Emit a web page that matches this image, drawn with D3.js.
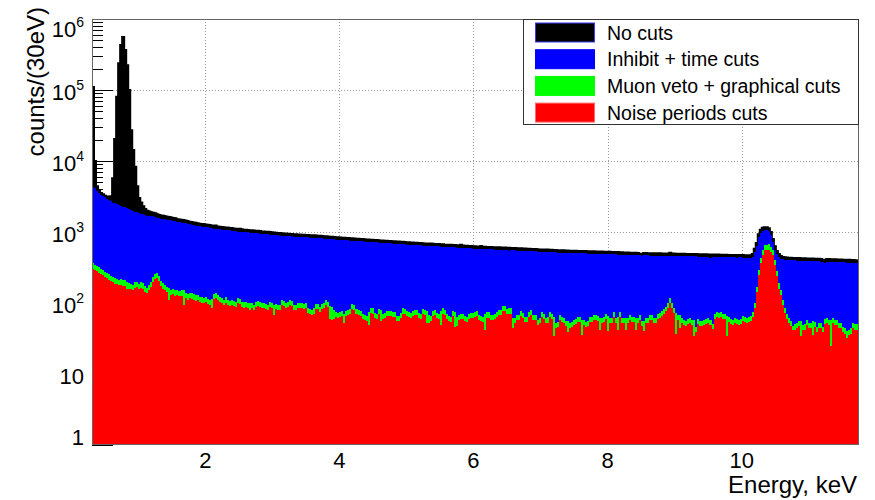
<!DOCTYPE html>
<html>
<head>
<meta charset="utf-8">
<script src="https://cdn.jsdelivr.net/npm/d3@7"></script>
<style>
  html, body { margin: 0; padding: 0; background: #fff; }
  svg { display: block; font-family: "Liberation Sans", Arial, Helvetica, sans-serif; }
</style>
</head>
<body>
<svg id="chart" width="875" height="500"></svg>
<script>
// Energy spectrum, 30 eV bins starting at 0.31 keV (381 bins), counts per bin.
const E_MIN = 0.31, BIN_KEV = 0.03;

const noCuts = [
  110000, 10000, 4400, 3900, 3550, 3400, 3250, 3150, 3050, 3200,
  5700, 20400, 80500, 238000, 430000, 560000, 366000, 224000, 100000, 27000,
  14300, 8300, 4400, 3000, 2600, 2300, 2100, 2000, 1950, 1900,
  1870, 1830, 1780, 1740, 1710, 1690, 1660, 1640, 1620, 1600,
  1580, 1560, 1510, 1500, 1490, 1470, 1450, 1430, 1400, 1380,
  1360, 1350, 1330, 1310, 1300, 1300, 1280, 1270, 1250, 1230,
  1220, 1230, 1200, 1190, 1180, 1170, 1160, 1160, 1140, 1140,
  1120, 1110, 1100, 1110, 1090, 1080, 1080, 1070, 1060, 1060,
  1050, 1040, 1040, 1030, 1020, 1020, 1010, 1010, 1000, 990,
  980, 975, 970, 965, 960, 955, 950, 945, 940, 935,
  932, 930, 922, 920, 918, 912, 910, 905, 902, 900,
  898, 890, 888, 882, 878, 872, 870, 864, 860, 855,
  850, 846, 842, 838, 832, 830, 825, 822, 818, 815,
  810, 806, 803, 800, 795, 792, 787, 785, 780, 776,
  772, 770, 765, 762, 758, 755, 752, 748, 745, 742,
  739, 735, 732, 729, 726, 722, 719, 716, 713, 710,
  707, 704, 702, 699, 697, 680, 691, 688, 686, 683,
  680, 677, 675, 672, 670, 655, 664, 662, 659, 657,
  654, 651, 649, 660, 644, 642, 639, 636, 634, 632,
  629, 626, 623, 635, 620, 618, 617, 616, 613, 612,
  611, 609, 608, 606, 590, 603, 600, 599, 597, 595,
  593, 592, 590, 588, 585, 584, 582, 580, 578, 577,
  575, 572, 560, 569, 568, 566, 565, 563, 562, 559,
  558, 540, 555, 553, 552, 550, 549, 546, 545, 544,
  543, 542, 541, 540, 539, 538, 537, 536, 535, 534,
  532, 531, 530, 530, 529, 528, 527, 526, 524, 523,
  522, 521, 518, 517, 516, 515, 513, 512, 511, 510,
  509, 508, 495, 490, 505, 505, 504, 503, 503, 502,
  501, 501, 500, 499, 499, 498, 498, 510, 496, 496,
  495, 495, 494, 492, 492, 491, 491, 490, 489, 489,
  488, 487, 487, 486, 485, 485, 484, 465, 483, 482,
  481, 481, 480, 478, 478, 477, 476, 476, 475, 475,
  460, 474, 474, 473, 472, 472, 471, 471, 490, 580,
  700, 930, 1080, 1150, 1170, 1165, 1130, 1000, 800, 630,
  540, 490, 460, 445, 440, 436, 434, 433, 432, 431,
  430, 429, 428, 427, 426, 425, 424, 423, 422, 421,
  420, 419, 418, 405, 400, 416, 415, 414, 413, 412,
  411, 410, 409, 408, 407, 395, 405, 404, 402, 400,
  398
];

const inhibitTime = [
  4300, 4100, 3820, 3600, 3320, 3200, 3080, 2950, 2820, 2750,
  2600, 2550, 2450, 2400, 2350, 2280, 2250, 2150, 2080, 2050,
  1950, 1930, 1900, 1850, 1800, 1780, 1750, 1700, 1690, 1660,
  1680, 1620, 1580, 1560, 1540, 1530, 1500, 1480, 1470, 1460,
  1440, 1420, 1380, 1370, 1360, 1340, 1330, 1310, 1280, 1260,
  1250, 1230, 1220, 1200, 1190, 1190, 1170, 1160, 1140, 1130,
  1120, 1120, 1100, 1090, 1080, 1070, 1070, 1060, 1050, 1040,
  1030, 1020, 1010, 1010, 1000, 995, 990, 985, 980, 975,
  970, 960, 955, 950, 945, 940, 935, 930, 920, 915,
  905, 900, 895, 890, 885, 880, 875, 872, 868, 866,
  862, 858, 855, 852, 848, 845, 842, 838, 835, 832,
  830, 826, 821, 817, 812, 808, 804, 800, 796, 791,
  787, 783, 779, 775, 771, 768, 764, 761, 757, 754,
  750, 747, 743, 740, 736, 733, 729, 726, 722, 719,
  715, 712, 708, 705, 702, 699, 696, 693, 690, 687,
  684, 681, 678, 675, 672, 669, 666, 663, 660, 657,
  655, 652, 650, 647, 645, 628, 640, 637, 635, 632,
  630, 627, 625, 622, 620, 605, 615, 613, 610, 608,
  606, 603, 601, 599, 596, 594, 592, 589, 587, 585,
  582, 580, 577, 575, 574, 572, 571, 570, 568, 567,
  566, 564, 563, 561, 560, 558, 556, 540, 553, 551,
  549, 548, 546, 544, 542, 541, 539, 537, 535, 534,
  532, 530, 529, 527, 526, 524, 523, 521, 520, 518,
  517, 500, 514, 512, 511, 509, 508, 506, 505, 504,
  503, 502, 501, 500, 499, 498, 497, 496, 495, 494,
  493, 492, 491, 491, 490, 489, 488, 487, 485, 484,
  483, 482, 480, 479, 478, 477, 475, 474, 473, 472,
  471, 470, 469, 452, 468, 468, 467, 466, 466, 465,
  464, 464, 463, 462, 462, 461, 461, 460, 459, 459,
  458, 458, 457, 456, 456, 455, 455, 454, 453, 453,
  452, 451, 451, 450, 449, 449, 448, 432, 447, 446,
  445, 445, 444, 443, 443, 442, 441, 441, 440, 440,
  425, 439, 438, 437, 437, 436, 436, 435, 440, 520,
  640, 850, 980, 1040, 1060, 1060, 1040, 900, 720, 560,
  490, 450, 420, 410, 405, 402, 400, 399, 398, 397,
  396, 395, 394, 393, 392, 391, 390, 389, 388, 387,
  386, 385, 384, 383, 365, 381, 380, 379, 378, 377,
  376, 375, 374, 373, 372, 371, 370, 368, 366, 364,
  362
];

const muonGraphical = [
  362, 340, 330, 318, 300, 290, 276, 262, 253, 240,
  235, 222, 218, 211, 215, 210, 208, 200, 189, 184,
  179, 195, 200, 186, 195, 189, 172, 163, 180, 200,
  230, 258, 262, 240, 205, 189, 178, 170, 161, 152,
  155, 150, 153, 147, 150, 152, 140, 133, 138, 137,
  132, 128, 130, 123, 120, 118, 123, 115, 110, 114,
  134, 137, 130, 123, 118, 112, 120, 110, 106, 112,
  106, 104, 119, 115, 104, 102, 104, 99, 101, 99,
  94, 104, 107, 103, 99, 101, 96, 94, 104, 100,
  94, 96, 94, 94, 112, 108, 99, 104, 110, 108,
  95, 94, 100, 99, 100, 98, 99, 86, 82, 80,
  84, 96, 97, 88, 96, 99, 110, 104, 92, 88,
  80, 74, 72, 75, 76, 71, 78, 80, 82, 96,
  94, 82, 80, 78, 71, 68, 66, 74, 85, 84,
  72, 70, 82, 80, 71, 72, 76, 78, 77, 75,
  74, 66, 65, 72, 84, 82, 76, 74, 73, 78,
  80, 79, 72, 70, 82, 80, 76, 68, 66, 78,
  80, 72, 70, 76, 84, 80, 71, 66, 64, 78,
  74, 64, 68, 71, 70, 65, 64, 70, 73, 72,
  74, 78, 68, 65, 64, 70, 74, 74, 68, 68,
  71, 74, 80, 80, 92, 90, 82, 84, 84, 61,
  62, 67, 67, 77, 72, 64, 64, 75, 80, 68,
  68, 58, 62, 74, 70, 61, 63, 74, 70, 64,
  52, 54, 68, 64, 61, 56, 56, 52, 54, 58,
  60, 64, 64, 58, 58, 54, 56, 64, 64, 68,
  68, 66, 61, 62, 64, 71, 66, 61, 62, 75,
  61, 63, 74, 61, 61, 61, 62, 68, 64, 64,
  61, 62, 67, 56, 56, 61, 62, 67, 67, 61,
  61, 71, 72, 76, 82, 89, 99, 117, 100, 85,
  72, 68, 68, 62, 58, 55, 60, 62, 58, 57,
  46, 59, 56, 55, 58, 60, 61, 58, 51, 71,
  75, 73, 74, 71, 70, 66, 64, 60, 58, 62,
  60, 58, 59, 66, 64, 61, 63, 66, 75, 99,
  170, 292, 426, 558, 656, 656, 668, 620, 558, 404,
  285, 189, 152, 110, 85, 70, 62, 55, 48, 50,
  52, 55, 55, 49, 50, 58, 52, 52, 55, 54,
  46, 52, 52, 46, 60, 62, 58, 58, 61, 58,
  58, 52, 52, 46, 44, 40, 42, 44, 52, 50,
  50
];

const noisePeriods = [
  300, 288, 278, 268, 255, 245, 232, 222, 214, 203,
  198, 188, 184, 178, 182, 176, 172, 160, 158, 156,
  152, 164, 170, 158, 165, 160, 145, 138, 152, 170,
  195, 220, 224, 205, 175, 160, 150, 142, 110, 130,
  132, 126, 130, 124, 127, 94, 118, 112, 116, 115,
  112, 108, 110, 104, 101, 100, 104, 97, 93, 84,
  114, 116, 110, 104, 100, 94, 101, 93, 90, 95,
  90, 88, 100, 97, 88, 86, 88, 84, 80, 84,
  80, 88, 90, 87, 84, 85, 81, 80, 88, 84,
  68, 81, 80, 80, 95, 91, 84, 88, 93, 91,
  80, 80, 85, 84, 85, 83, 84, 73, 70, 68,
  71, 82, 82, 75, 82, 84, 94, 88, 60, 58,
  60, 63, 61, 64, 65, 52, 66, 68, 70, 82,
  80, 70, 68, 66, 60, 58, 56, 49, 72, 71,
  61, 60, 70, 55, 60, 61, 65, 66, 65, 64,
  63, 56, 55, 61, 71, 70, 65, 63, 62, 66,
  68, 67, 61, 60, 70, 68, 52, 52, 56, 66,
  68, 61, 60, 49, 71, 68, 60, 56, 54, 66,
  46, 48, 58, 60, 60, 55, 54, 60, 62, 61,
  63, 66, 58, 55, 54, 42, 62, 62, 57, 57,
  60, 63, 68, 68, 78, 76, 70, 71, 71, 44,
  52, 57, 57, 65, 61, 54, 54, 64, 68, 58,
  58, 49, 53, 63, 59, 52, 53, 63, 60, 34,
  44, 46, 58, 54, 52, 47, 39, 44, 46, 49,
  51, 54, 54, 35, 49, 46, 48, 54, 54, 58,
  58, 56, 42, 53, 54, 60, 40, 52, 53, 64,
  52, 42, 63, 52, 52, 41, 53, 58, 54, 54,
  42, 53, 57, 48, 40, 52, 53, 57, 57, 52,
  52, 60, 61, 65, 70, 76, 84, 100, 85, 72,
  37, 58, 44, 53, 49, 47, 51, 53, 49, 34,
  39, 50, 48, 47, 49, 51, 52, 49, 43, 60,
  64, 62, 63, 60, 59, 34, 54, 51, 49, 53,
  51, 49, 50, 56, 54, 52, 54, 56, 64, 84,
  145, 248, 362, 474, 558, 560, 565, 527, 474, 343,
  242, 160, 129, 93, 72, 59, 53, 47, 41, 42,
  44, 47, 34, 42, 42, 49, 44, 44, 36, 46,
  39, 44, 44, 39, 51, 53, 49, 25, 52, 49,
  49, 44, 44, 39, 37, 32, 36, 37, 44, 42,
  42
];

const seriesNames = ["No cuts", "Inhibit + time cuts", "Muon veto + graphical cuts", "Noise periods cuts"];
const seriesColors = ["#000000", "#0000ff", "#00ff00", "#ff0000"];
const xTicks = [2, 4, 6, 8, 10];
const yTicks = [1, 10, 1e2, 1e3, 1e4, 1e5, 1e6];

// ---- layout
const frame = { left: 92, right: 859, top: 19, bottom: 445 };
const x = d3.scaleLinear().domain([0.31, 11.75]).range([frame.left, frame.right]);
const y = d3.scaleLog().domain([1, 1e6]).range([frame.bottom, frame.top]);

const svg = d3.select("#chart");

svg.append("defs").append("clipPath").attr("id", "plot-clip")
  .append("rect")
  .attr("x", frame.left).attr("y", frame.top)
  .attr("width", frame.right - frame.left).attr("height", frame.bottom - frame.top);

// grid (dotted), drawn first so the filled histograms hide it
const grid = svg.append("g").attr("stroke", "#9a9a9a").attr("stroke-dasharray", "1,2").attr("stroke-width", 1);
grid.selectAll("line.gx").data(xTicks).join("line").attr("class", "gx")
  .attr("x1", d => Math.round(x(d)) + 0.5).attr("x2", d => Math.round(x(d)) + 0.5)
  .attr("y1", frame.top).attr("y2", frame.bottom);
grid.selectAll("line.gy").data(yTicks.slice(1, -1)).join("line").attr("class", "gy")
  .attr("x1", frame.left).attr("x2", frame.right)
  .attr("y1", d => Math.round(y(d)) + 0.5).attr("y2", d => Math.round(y(d)) + 0.5);

// ticks on the left axis (major + minor), also underneath the fills
const minor = [];
for (let n = 0; n < 6; n++) for (let k = 2; k <= 9; k++) minor.push(k * Math.pow(10, n));
const ticks = svg.append("g").attr("stroke", "#000").attr("stroke-width", 1);
ticks.selectAll("line.mj").data(yTicks).join("line").attr("class", "mj")
  .attr("x1", frame.left).attr("x2", frame.left + 21)
  .attr("y1", d => Math.round(y(d)) + 0.5).attr("y2", d => Math.round(y(d)) + 0.5);
ticks.selectAll("line.mn").data(minor).join("line").attr("class", "mn")
  .attr("x1", frame.left).attr("x2", frame.left + 11)
  .attr("y1", d => Math.round(y(d)) + 0.5).attr("y2", d => Math.round(y(d)) + 0.5);
ticks.selectAll("line.xt").data(xTicks).join("line").attr("class", "xt")
  .attr("x1", d => x(d)).attr("x2", d => x(d))
  .attr("y1", frame.bottom).attr("y2", frame.bottom - 13);

// filled step histograms
const area = d3.area()
  .curve(d3.curveStepAfter)
  .x(d => x(d.e))
  .y0(y(1))
  .y1(d => y(Math.max(1, d.v)));
const topLine = d3.line()
  .curve(d3.curveStepAfter)
  .x(d => x(d.e))
  .y(d => y(Math.max(1, d.v)));

function toSteps(vals) {
  const pts = vals.map((v, i) => ({ e: E_MIN + i * BIN_KEV, v }));
  pts.push({ e: E_MIN + vals.length * BIN_KEV, v: vals[vals.length - 1] });
  return pts;
}

const hists = svg.append("g").attr("clip-path", "url(#plot-clip)");
[noCuts, inhibitTime, muonGraphical, noisePeriods].forEach((vals, k) => {
  hists.append("path")
    .attr("d", area(toSteps(vals)))
    .attr("fill", seriesColors[k])
    .attr("shape-rendering", "crispEdges");
  // the "No cuts" histogram carries a thicker outline, as in the ROOT plot
  if (k === 0) {
    hists.append("path")
      .attr("d", topLine(toSteps(vals)))
      .attr("fill", "none").attr("stroke", "#000").attr("stroke-width", 2);
  }
});

// frame
svg.append("rect")
  .attr("x", frame.left + 0.5).attr("y", frame.top + 0.5)
  .attr("width", frame.right - frame.left - 1).attr("height", frame.bottom - frame.top - 1)
  .attr("fill", "none").attr("stroke", "#666").attr("stroke-width", 1);

// y tick labels: 1, 10, then 10^n with superscript
const yLab = svg.append("g").attr("fill", "#000").attr("font-size", 22).attr("text-anchor", "end");
yTicks.forEach(v => {
  const n = Math.round(Math.log10(v));
  const t = yLab.append("text")
    .attr("x", 84)
    .attr("y", Math.min(Math.max(y(v) + 10, 37), frame.bottom));
  if (n < 2) t.text(v);
  else {
    t.append("tspan").text("10");
    t.append("tspan").attr("font-size", 14).attr("dy", -10).text(n);
  }
});

// x tick labels
svg.append("g").attr("fill", "#000").attr("font-size", 22).attr("text-anchor", "middle")
  .selectAll("text").data(xTicks).join("text")
  .attr("x", d => x(d)).attr("y", 468)
  .text(d => d);

// axis titles
svg.append("text")
  .attr("x", 857).attr("y", 493).attr("text-anchor", "end")
  .attr("font-size", 24).text("Energy, keV");
svg.append("text")
  .attr("transform", "translate(44,7) rotate(-90)")
  .attr("text-anchor", "end").attr("font-size", 24)
  .text("counts/(30eV)");

// legend
const leg = svg.append("g");
leg.append("rect")
  .attr("x", 523.5).attr("y", 19.5).attr("width", 335).attr("height", 105)
  .attr("fill", "#fff").attr("stroke", "#333").attr("stroke-width", 1);
const swatchStroke = ["#3a3aff", "#0000ff", "#00ff00", "#ff6a6a"];
seriesNames.forEach((name, k) => {
  const cy = 32.5 + k * 26.7;
  leg.append("rect")
    .attr("x", 535.5).attr("y", cy - 9.5).attr("width", 59).attr("height", 19)
    .attr("fill", seriesColors[k]).attr("stroke", swatchStroke[k]).attr("stroke-width", 1);
  leg.append("text")
    .attr("x", 607).attr("y", cy + 7)
    .attr("font-size", 19.5).attr("fill", "#000")
    .text(name);
});
</script>
</body>
</html>
